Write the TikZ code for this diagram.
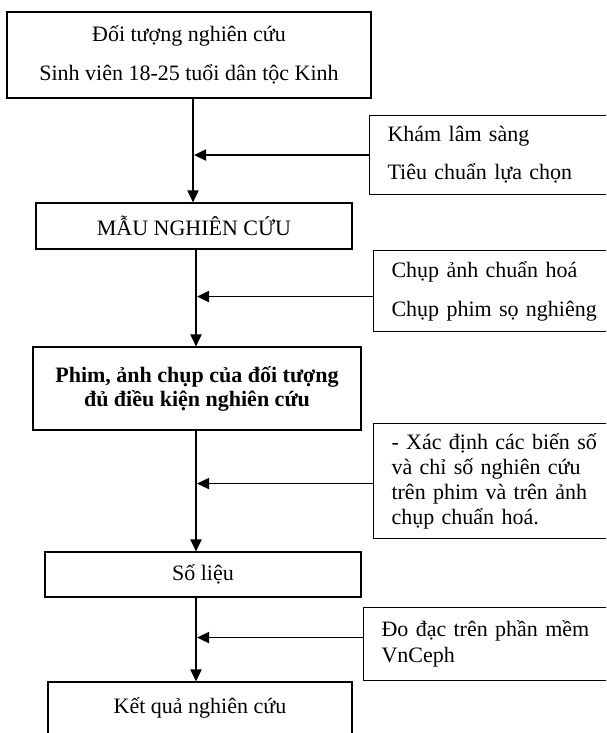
\documentclass[tikz,border=0pt]{standalone}
\usepackage{fontspec}
\setmainfont{Liberation Serif}
\usetikzlibrary{arrows.meta}
\begin{document}
\begin{tikzpicture}[x=1pt,y=-1pt,
  box/.style={draw, line width=1.1pt, inner sep=0pt, align=center, font=\fontsize{22}{39}\selectfont},
  side/.style={draw, line width=1.1pt, anchor=north west, inner xsep=18pt, inner ysep=0pt, align=left},
  arr/.style={line width=1.8pt, -{Triangle[length=12pt,width=11pt]}}]
\useasboundingbox (0,0) rectangle (606,733);
\clip (0,0) rectangle (606,733);
% main column
\node[box, minimum width=364pt, minimum height=86pt] (b1) at (189,55) {Đối tượng nghiên cứu\\Sinh viên 18-25 tuổi dân tộc Kinh};
\node[box, minimum width=316pt, minimum height=46pt] (b2) at (194,226) {MẪU NGHIÊN CỨU};
\node[box, minimum width=328pt, minimum height=83pt, font=\fontsize{22}{24}\selectfont\bfseries] (b3) at (197,388.5) {Phim, ảnh chụp của đối tượng\\đủ điều kiện nghiên cứu};
\node[box, minimum width=316pt, minimum height=45pt] (b4) at (203,574.5) {Số liệu};
\node[box, minimum width=304pt, minimum height=52pt] (b5) at (200,708) {Kết quả nghiên cứu};
% side boxes
\node[side, minimum width=251pt, text width=215pt, minimum height=79pt, font=\fontsize{22}{38}\selectfont] (r1) at (369,115) {Khám lâm sàng\\Tiêu chuẩn lựa chọn};
\node[side, minimum width=247pt, text width=211pt, minimum height=81pt, font=\fontsize{22}{39}\selectfont] (r2) at (373,250) {Chụp ảnh chuẩn hoá\\Chụp phim sọ nghiêng};
\node[side, minimum width=247pt, text width=211pt, minimum height=115pt, font=\fontsize{22}{25}\selectfont] (r3) at (373,423) {- Xác định các biến số\\và chỉ số nghiên cứu\\trên phim và trên ảnh\\chụp chuẩn hoá.};
\node[side, minimum width=257pt, text width=221pt, minimum height=73pt, font=\fontsize{22}{26}\selectfont] (r4) at (363,607) {Đo đạc trên phần mềm\\VnCeph};
% spine tip positions
\coordinate (t1) at (194,0);
\coordinate (t2) at (197,0);
% vertical connectors
\draw[arr] ([xshift=4pt]b1.south) -- ([xshift=-1pt]b2.north);
\draw[arr] ([xshift=2pt]b2.south) -- ([xshift=-1pt]b3.north);
\draw[arr] ([xshift=-1pt]b3.south) -- ([xshift=-7pt]b4.north);
\draw[arr] ([xshift=-7pt]b4.south) -- ([xshift=-4pt]b5.north);
% horizontal connectors
\draw[arr] (r1.west) -- (r1.west -| t1);
\draw[arr] ([yshift=-5.5pt]r2.west) -- ([yshift=-5.5pt]r2.west -| t2);
\draw[arr] ([yshift=-2.5pt]r3.west) -- ([yshift=-2.5pt]r3.west -| t2);
\draw[arr] ([yshift=6.5pt]r4.west) -- ([yshift=6.5pt]r4.west -| t2);
\end{tikzpicture}
\end{document}
